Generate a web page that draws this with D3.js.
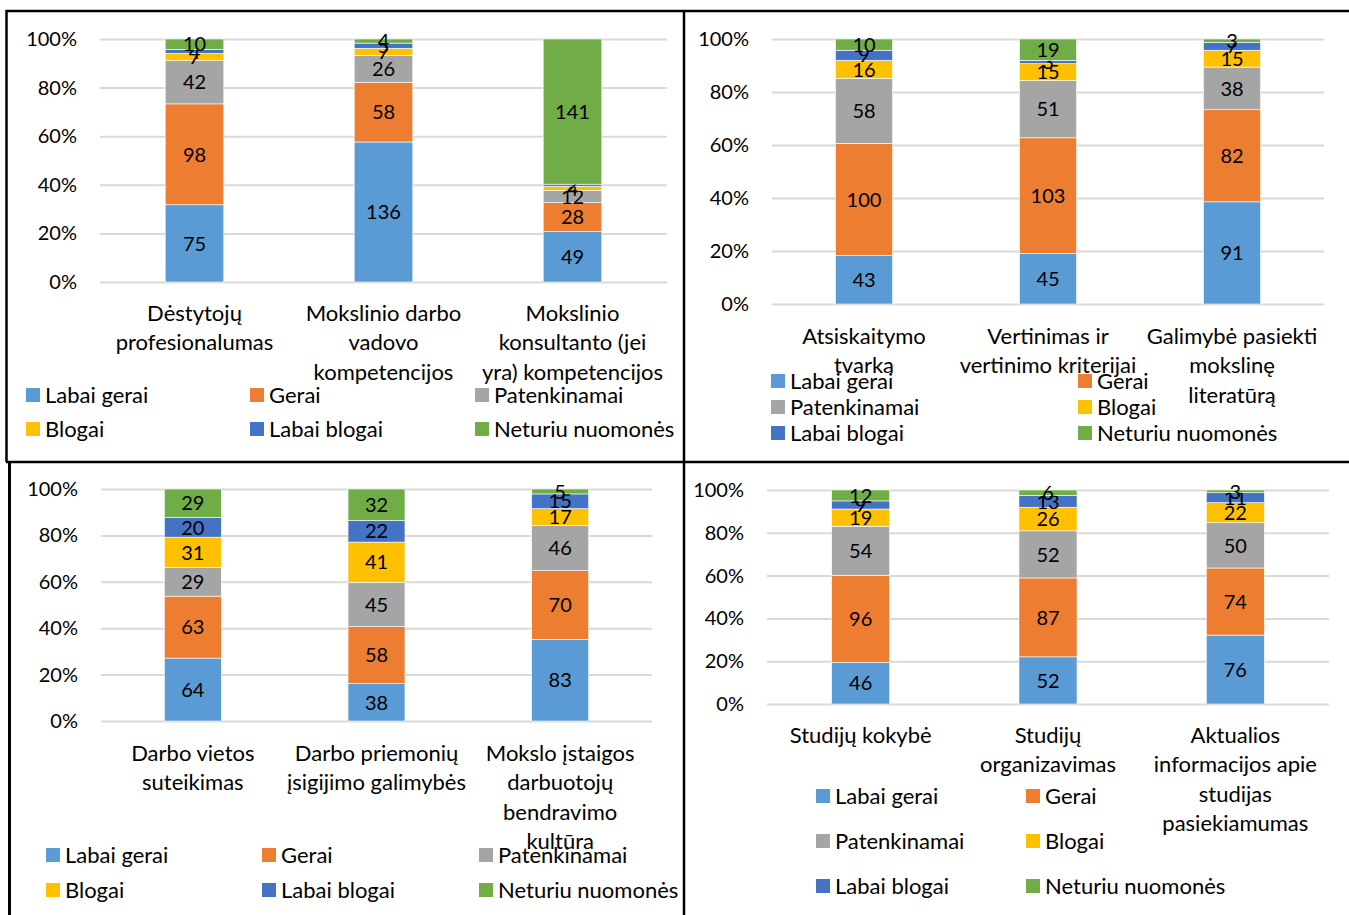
<!DOCTYPE html>
<html lang="lt">
<head>
<meta charset="UTF-8">
<title>Studijų vertinimas</title>
<style>
  body { margin: 0; background: #fff; }
  svg { display: block; font-family: Lato, sans-serif; }
</style>
</head>
<body>
<svg id="chart" width="1349" height="915"></svg>
<script src="https://d3js.org/d3.v7.min.js"></script>
<script>
// serijos ir spalvos
const seriesNames = ["Labai gerai", "Gerai", "Patenkinamai", "Blogai", "Labai blogai", "Neturiu nuomonės"];
const seriesColors = ["#5b9bd5", "#ed7d31", "#a5a5a5", "#ffc000", "#4472c4", "#70ad47"];
const yTicks = [0, 0.2, 0.4, 0.6, 0.8, 1];

// kategorijos (\n - eilutės lūžis)
const categories1 = ["Dėstytojų\nprofesionalumas", "Mokslinio darbo\nvadovo\nkompetencijos", "Mokslinio\nkonsultanto (jei\nyra) kompetencijos"];
const categories2 = ["Atsiskaitymo\ntvarka", "Vertinimas ir\nvertinimo kriterijai", "Galimybė pasiekti\nmokslinę\nliteratūrą"];
const categories3 = ["Darbo vietos\nsuteikimas", "Darbo priemonių\nįsigijimo galimybės", "Mokslo įstaigos\ndarbuotojų\nbendravimo\nkultūra"];
const categories4 = ["Studijų kokybė", "Studijų\norganizavimas", "Aktualios\ninformacijos apie\nstudijas\npasiekiamumas"];

// reikšmės: kiekvienai kategorijai - pagal serijas
const values1 = [[75, 98, 42, 7, 4, 10], [136, 58, 26, 7, 5, 4], [49, 28, 12, 4, 2, 141]];
const values2 = [[43, 100, 58, 16, 9, 10], [45, 103, 51, 15, 3, 19], [91, 82, 38, 15, 7, 3]];
const values3 = [[64, 63, 29, 31, 20, 29], [38, 58, 45, 41, 22, 32], [83, 70, 46, 17, 15, 5]];
const values4 = [[46, 96, 54, 19, 9, 12], [52, 87, 52, 26, 13, 6], [76, 74, 50, 22, 11, 3]];

const panels = [
    { cats: categories1, vals: values1, left: 100, right: 667, top: 39, bottom: 282, labelY: 313, legendX: [26, 250, 475], legendY: [395, 429] },
    { cats: categories2, vals: values2, left: 772, right: 1324, top: 39, bottom: 304, labelY: 336, legendX: [771, 1078], legendY: [381, 407, 433] },
    { cats: categories3, vals: values3, left: 101, right: 652, top: 489, bottom: 721, labelY: 753, legendX: [46, 262, 479], legendY: [855, 890] },
    { cats: categories4, vals: values4, left: 767, right: 1329, top: 490, bottom: 704, labelY: 735, legendX: [816, 1026], legendY: [796, 841, 886] }
];

const svg = d3.select("#chart");
const lineH = 29.5;

function drawPanel(p) {
    const g = svg.append("g");
    const x = d3.scaleBand().domain(p.cats).range([p.left, p.right])
        .paddingInner(0.69).paddingOuter(0.345);
    const y = d3.scaleLinear().domain([0, 1]).range([p.bottom, p.top]);

    // tinklelis
    g.append("g")
        .attr("transform", `translate(${p.left},0)`)
        .call(d3.axisLeft(y).tickValues(yTicks).tickSize(-(p.right - p.left)).tickFormat(""))
        .call(a => a.select(".domain").remove())
        .call(a => a.selectAll("line").attr("stroke", "#d9d9d9").attr("stroke-width", 2));

    // y ašies žymės
    g.append("g")
        .attr("transform", `translate(${p.left},0)`)
        .call(d3.axisLeft(y).tickValues(yTicks).tickSize(0).tickPadding(23).tickFormat(d3.format(".0%")))
        .attr("font-family", "Lato, sans-serif")
        .attr("font-size", 20)
        .call(a => a.select(".domain").remove())
        .call(a => a.selectAll("text").attr("fill", "#000"));

    const rows = p.cats.map((c, i) => {
        const r = { cat: c };
        seriesNames.forEach((s, j) => r[s] = p.vals[i][j]);
        return r;
    });
    const stacked = d3.stack().keys(seriesNames).offset(d3.stackOffsetExpand)(rows);

    const layer = g.selectAll("g.layer")
        .data(stacked)
        .join("g")
        .attr("class", "layer")
        .attr("fill", (d, i) => seriesColors[i]);

    layer.selectAll("rect")
        .data(d => d.map(v => ({ v, key: d.key })))
        .join("rect")
        .attr("x", d => x(d.v.data.cat))
        .attr("width", x.bandwidth())
        .attr("y", d => y(d.v[1]))
        .attr("height", d => y(d.v[0]) - y(d.v[1]))
        .attr("stroke", "#fff")
        .attr("stroke-width", 0.6);

    layer.selectAll("text")
        .data(d => d.map(v => ({ v, key: d.key })))
        .join("text")
        .attr("x", d => x(d.v.data.cat) + x.bandwidth() / 2)
        .attr("y", d => (y(d.v[0]) + y(d.v[1])) / 2)
        .attr("dy", "0.36em")
        .attr("text-anchor", "middle")
        .attr("font-size", 20)
        .attr("fill", "#000")
        .text(d => d.v.data[d.key]);

    // kategorijų pavadinimai
    const lbl = g.selectAll("text.cat")
        .data(p.cats)
        .join("text")
        .attr("class", "cat")
        .attr("text-anchor", "middle")
        .attr("font-size", 22)
        .attr("fill", "#000");
    lbl.selectAll("tspan")
        .data(d => d.split("\n").map(t => ({ t, cat: d })))
        .join("tspan")
        .attr("x", d => x(d.cat) + x.bandwidth() / 2)
        .attr("y", (d, i) => p.labelY + i * lineH)
        .attr("dy", "0.35em")
        .text(d => d.t);

    // legenda
    const nCols = p.legendX.length;
    const item = g.selectAll("g.leg")
        .data(seriesNames)
        .join("g")
        .attr("class", "leg")
        .attr("transform", (d, i) => `translate(${p.legendX[i % nCols]},${p.legendY[Math.floor(i / nCols)]})`);
    item.append("rect")
        .attr("x", 0).attr("y", -7)
        .attr("width", 14).attr("height", 14)
        .attr("fill", (d, i) => seriesColors[i]);
    item.append("text")
        .attr("x", 19)
        .attr("dy", "0.35em")
        .attr("font-size", 22)
        .attr("fill", "#000")
        .text(d => d);
}

panels.forEach(drawPanel);

// rėmeliai
const borders = svg.append("g").attr("stroke", "#000").attr("fill", "none");
borders.append("path").attr("d", "M6,11H1349").attr("stroke-width", 2.5);
borders.append("path").attr("d", "M6.5,10V462").attr("stroke-width", 2.5);
borders.append("path").attr("d", "M684,10V915").attr("stroke-width", 2.5);
borders.append("path").attr("d", "M6,462H1349").attr("stroke-width", 2.5);
borders.append("path").attr("d", "M9.5,461V915").attr("stroke-width", 3);
</script>
</body>
</html>
